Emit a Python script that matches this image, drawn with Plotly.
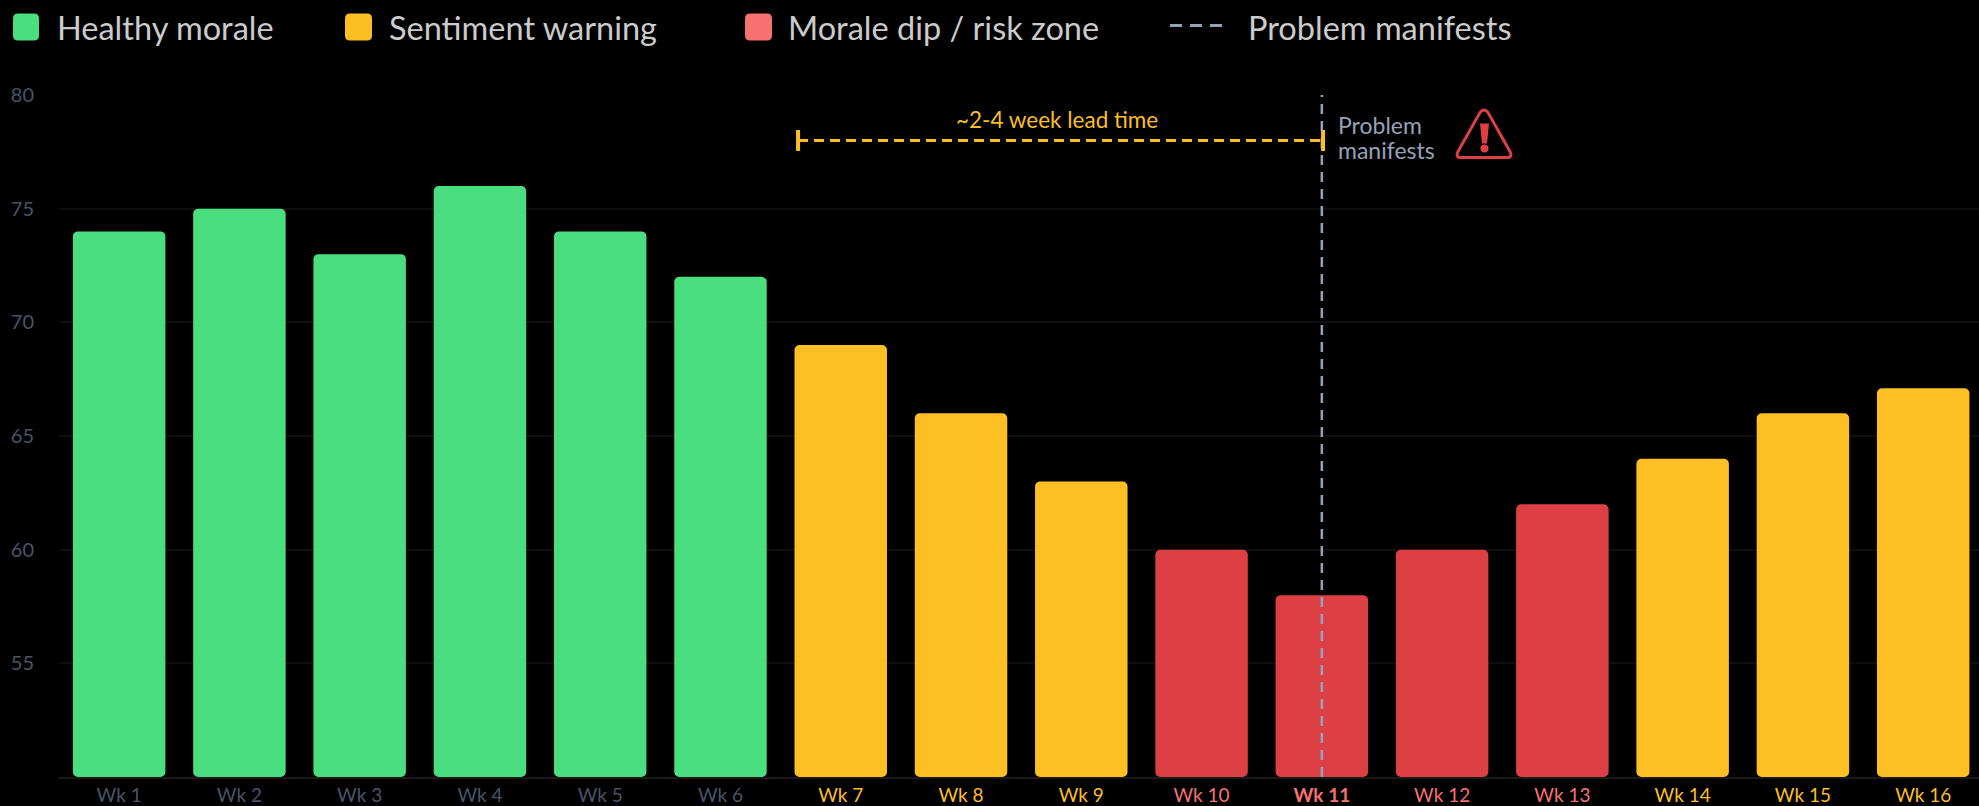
import plotly.graph_objects as go

weeks = ["Wk 1","Wk 2","Wk 3","Wk 4","Wk 5","Wk 6","Wk 7","Wk 8","Wk 9","Wk 10","Wk 11","Wk 12","Wk 13","Wk 14","Wk 15","Wk 16"]
morale = [74,75,73,76,74,72,69,66,63,60,58,60,62,64,66,67.1]
status = ["h","h","h","h","h","h","w","w","w","r","r","r","r","w","w","w"]
y_ticks = [55,60,65,70,75,80]
legend_labels = ["Healthy morale","Sentiment warning","Morale dip / risk zone","Problem manifests"]

FONT = "Lato"
BAR = {"h":"#4ADE80","w":"#FCBF24","r":"#DD4044"}
TICK = {"h":"#475569","w":"#FBBF24","r":"#F87171"}
BASE = 50
TOP = 80
L, R, T, B = 59, 1979, 94.5, 777
STEP = 120.27

def px(x): return (x-L)/(R-L)
def py(y): return (B-y)/(B-T)

def rrect(x0,y0,x1,y1,r):
    return (f"M{px(x0+r)},{py(y0)} L{px(x1-r)},{py(y0)} Q{px(x1)},{py(y0)} {px(x1)},{py(y0+r)} "
            f"L{px(x1)},{py(y1-r)} Q{px(x1)},{py(y1)} {px(x1-r)},{py(y1)} L{px(x0+r)},{py(y1)} "
            f"Q{px(x0)},{py(y1)} {px(x0)},{py(y1-r)} L{px(x0)},{py(y0+r)} Q{px(x0)},{py(y0)} {px(x0+r)},{py(y0)} Z")

colors = [BAR[s] for s in status]
xs = list(range(len(weeks)))
ticktext = []
for w,s in zip(weeks,status):
    t = f'<span style="color:{TICK[s]}">{w}</span>'
    if w == "Wk 11":
        t = f'<b><span style="color:{TICK[s]}">{w}</span></b>'
    ticktext.append(t)

fig = go.Figure()
fig.add_trace(go.Bar(x=xs, y=[v-BASE for v in morale], base=BASE, width=0.769,
                     marker=dict(color=colors, line=dict(width=0), cornerradius=5), showlegend=False))
# problem line
fig.add_trace(go.Scatter(x=[10,10], y=[BASE,TOP], mode="lines",
                         line=dict(color="#94A3B8", width=2.5, dash="10px,7px"), showlegend=False))
# lead time
fig.add_trace(go.Scatter(x=[5.645,10], y=[78,78], mode="lines",
                         line=dict(color="#FBBF24", width=3, dash="10px,6px"), showlegend=False))
fig.add_trace(go.Scatter(x=[5.645,10.01], y=[78,78], mode="markers",
                         marker=dict(symbol="line-ns", size=15, line=dict(color="#FBBF24", width=4)), showlegend=False))

shapes = []
# hide the top gridline
shapes.append(dict(type="line", xref="paper", yref="y", x0=0, x1=1, y0=TOP, y1=TOP,
                   line=dict(color="#000000", width=2), layer="below"))
swatches = [(13,39,"#4ADE80"),(345,372,"#FBBF24"),(745,772,"#F87171")]
for x0,x1,c in swatches:
    shapes.append(dict(type="path", xref="paper", yref="paper", path=rrect(x0,13,x1,40,5),
                       fillcolor=c, line=dict(width=0)))
shapes.append(dict(type="line", xref="paper", yref="paper", x0=px(1170), x1=px(1228), y0=py(25), y1=py(25),
                   line=dict(color="#94A3B8", width=3, dash="12px,8px")))
# warning icon
ax,ay,lx,ly,rx = 1484,110,1457,157,1511
tri = (f"M{px(ax-4)},{py(ay+2)} Q{px(ax)},{py(ay-3)} {px(ax+4)},{py(ay+2)} "
       f"L{px(rx-1)},{py(ly-6)} Q{px(rx+2)},{py(ly)} {px(rx-4)},{py(ly)} "
       f"L{px(lx+4)},{py(ly)} Q{px(lx-2)},{py(ly)} {px(lx+1)},{py(ly-6)} Z")
shapes.append(dict(type="path", xref="paper", yref="paper", path=tri, line=dict(color="#DD4044", width=3), fillcolor="rgba(0,0,0,0)"))
bar = f"M{px(1480)},{py(123)} L{px(1489)},{py(123)} L{px(1487)},{py(143)} L{px(1482)},{py(143)} Z"
shapes.append(dict(type="path", xref="paper", yref="paper", path=bar, fillcolor="#DD4044", line=dict(width=0)))
shapes.append(dict(type="circle", xref="paper", yref="paper", x0=px(1480.5), x1=px(1488.5), y0=py(152), y1=py(144),
                   fillcolor="#DD4044", line=dict(width=0)))

ann = []
for label,x in zip(legend_labels,[55,387,786,1246]):
    ann.append(dict(text=label, xref="paper", yref="paper", x=px(x), y=py(27), xanchor="left", yanchor="middle",
                    showarrow=False, font=dict(family=FONT, size=32.5, color="#CBCBCB")))
ann.append(dict(text="~2-4 week lead time", xref="x", yref="y", x=7.8, y=78.93, showarrow=False,
                xanchor="center", yanchor="middle", font=dict(family=FONT, size=22.5, color="#FBBF24")))
ann.append(dict(text="Problem", xref="paper", yref="paper", x=px(1336), y=py(125), showarrow=False,
                xanchor="left", yanchor="middle", font=dict(family=FONT, size=23, color="#94A3B8")))
ann.append(dict(text="manifests", xref="paper", yref="paper", x=px(1336), y=py(150), showarrow=False,
                xanchor="left", yanchor="middle", font=dict(family=FONT, size=23, color="#94A3B8")))

fig.update_layout(
    width=1979, height=806, barmode="overlay", showlegend=False,
    paper_bgcolor="#000000", plot_bgcolor="#000000",
    margin=dict(l=L, r=1979-R, t=T, b=806-B, pad=0),
    font=dict(family=FONT),
    shapes=shapes, annotations=ann,
    xaxis=dict(range=[-0.5, -0.5+(R-L)/STEP], tickvals=xs, ticktext=ticktext, showgrid=False, zeroline=False,
               showline=True, linecolor="#1A1A1A", linewidth=1.5, ticks="", tickangle=0,
               tickfont=dict(family=FONT, size=19, color="#475569")),
    yaxis=dict(range=[BASE,TOP], tickvals=y_ticks, showgrid=True, gridcolor="#0F0F0F", gridwidth=1.5,
               zeroline=False, showline=False, ticks="", ticklabelstandoff=24,
               tickfont=dict(family=FONT, size=20, color="#475569")),
)
fig.write_html("out.html", config={"displayModeBar": False}, post_script="document.body.style.margin='0';")
